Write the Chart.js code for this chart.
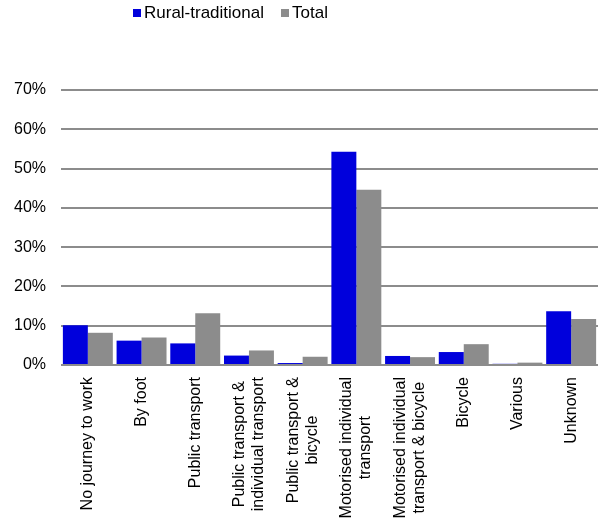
<!DOCTYPE html>
<html>
<head>
<meta charset="utf-8">
<script src="https://cdn.jsdelivr.net/npm/chart.js@4/dist/chart.umd.min.js"></script>
<style>
  body { margin: 0; background: #fff; }
  .wrap { position: relative; width: 603px; height: 518px; }
  .legend { position: absolute; top: 3px; left: 133px; font: 17px "Liberation Sans", Arial, sans-serif; color: #000; white-space: nowrap; }
  .legend span.item { display: inline-block; margin-right: 17px; }
  .legend span.box { display: inline-block; width: 8px; height: 8px; margin-right: 3px; vertical-align: 1px; }
</style>
</head>
<body>
<div class="wrap">
  <canvas id="chart" width="603" height="518"></canvas>
  <div class="legend" id="legend"></div>
</div>
<script>
const categories = [
  ["No journey to work"],
  ["By foot"],
  ["Public transport"],
  ["Public transport &", "individual transport"],
  ["Public transport &", "bicycle"],
  ["Motorised individual", "transport"],
  ["Motorised individual", "transport & bicycle"],
  ["Bicycle"],
  ["Various"],
  ["Unknown"]
];
const seriesNames = ["Rural-traditional", "Total"];
const ruralValues = [10.1, 6.2, 5.5, 2.4, 0.5, 54.3, 2.3, 3.3, 0.3, 13.7];
const totalValues = [8.2, 7.0, 13.2, 3.7, 2.1, 44.6, 2.0, 5.3, 0.6, 11.7];
const yTicks = [0, 10, 20, 30, 40, 50, 60, 70];

const FONT = '"Liberation Sans", Arial, sans-serif';
const colors = ["#0000dc", "#8c8c8c"];

// x labels: rotated, multi-line centred like the original
const xLabelPlugin = {
  id: "xLabels",
  afterDraw(chart) {
    const ctx = chart.ctx;
    const xs = chart.scales.x;
    const top = chart.chartArea.bottom + 12;
    const lineH = 19;
    ctx.save();
    ctx.font = "16px " + FONT;
    ctx.fillStyle = "#000";
    ctx.textBaseline = "middle";
    ctx.textAlign = "center";
    categories.forEach((lines, i) => {
      const x = xs.getPixelForTick(i);
      const maxW = Math.max(...lines.map(l => ctx.measureText(l).width));
      ctx.save();
      ctx.translate(x, top);
      ctx.rotate(-Math.PI / 2);
      lines.forEach((l, j) => {
        ctx.fillText(l, -maxW / 2, (j - (lines.length - 1) / 2) * lineH);
      });
      ctx.restore();
    });
    ctx.restore();
  }
};

const chart = new Chart(document.getElementById("chart"), {
  type: "bar",
  data: {
    labels: categories,
    datasets: [
      { label: seriesNames[0], data: ruralValues, backgroundColor: colors[0] },
      { label: seriesNames[1], data: totalValues, backgroundColor: colors[1] }
    ]
  },
  options: {
    responsive: false,
    animation: false,
    events: [],
    layout: { padding: { top: 90, right: 5, left: 0, bottom: 0 } },
    datasets: { bar: { categoryPercentage: 0.93, barPercentage: 1 } },
    plugins: { legend: { display: false }, tooltip: { enabled: false } },
    scales: {
      x: {
        grid: { display: false },
        border: { display: false },
        ticks: { display: false },
        afterFit: (s) => { s.height = 153; }
      },
      y: {
        min: 0,
        max: 70,
        afterBuildTicks: (s) => { s.ticks = yTicks.map(v => ({ value: v })); },
        grid: { color: "#8c8c8c", lineWidth: 2, drawTicks: false },
        border: { display: false },
        ticks: {
          padding: 15,
          color: "#000",
          font: { family: FONT, size: 16 },
          callback: (v) => v + "%"
        },
        afterFit: (s) => { s.width = 61; }
      }
    }
  },
  plugins: [xLabelPlugin]
});

// html legend built from the datasets
const legendEl = document.getElementById("legend");
chart.data.datasets.forEach((ds) => {
  legendEl.insertAdjacentHTML("beforeend",
    `<span class="item"><span class="box" style="background:${ds.backgroundColor}"></span>${ds.label}</span>`);
});
</script>
</body>
</html>
